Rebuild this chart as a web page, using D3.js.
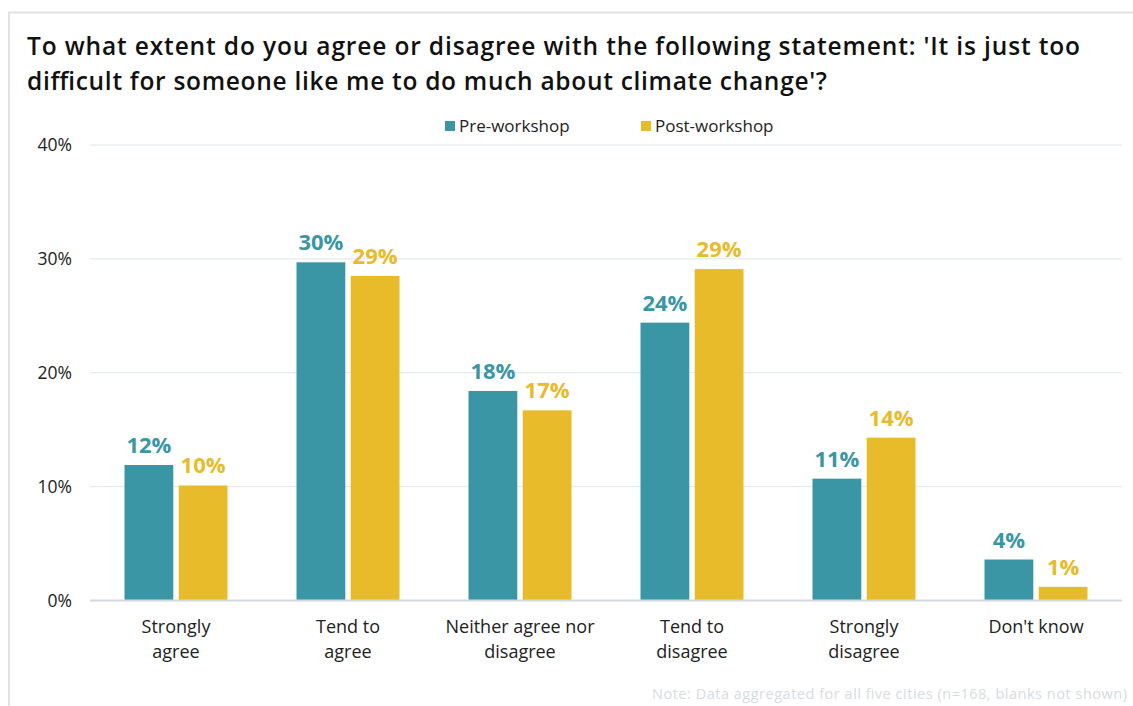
<!DOCTYPE html>
<html>
<head>
<meta charset="utf-8">
<script src="https://cdn.jsdelivr.net/npm/d3@7/dist/d3.min.js"></script>
<style>
  html, body { margin: 0; padding: 0; background: #fff; }
  svg { display: block; font-family: "Open Sans", "Noto Sans", sans-serif; }
</style>
</head>
<body>
<svg id="chart" width="1133" height="706"></svg>
<script>
// Survey responses (share of respondents, %)
const categories = [
  ["Strongly", "agree"],
  ["Tend to", "agree"],
  ["Neither agree nor", "disagree"],
  ["Tend to", "disagree"],
  ["Strongly", "disagree"],
  ["Don't know"]
];
const seriesNames = ["Pre-workshop", "Post-workshop"];
const preWorkshop  = [11.9, 29.7, 18.4, 24.4, 10.7, 3.6];
const postWorkshop = [10.1, 28.5, 16.7, 29.1, 14.3, 1.2];
const yTicks = [0, 10, 20, 30, 40];
const titleLines = [
  "To what extent do you agree or disagree with the following statement: 'It is just too",
  "difficult for someone like me to do much about climate change'?"
];

const colors = ["#3A96A5", "#E8BB2A"];

const svg = d3.select("#chart");
const W = 1133, H = 706;
const margin = { left: 90, right: 1122, top: 145, bottom: 600.5 };

// Panel frame (top and left edges)
svg.append("path")
  .attr("d", `M9,${H} L9,12.5 L${W},12.5`)
  .attr("fill", "none")
  .attr("stroke", "#e2e2e2")
  .attr("stroke-width", 2);

// Title
const title = svg.append("text")
  .attr("x", 27).attr("y", 55)
  .attr("font-size", 24.5).attr("font-weight", 600).attr("fill", "#111");
const titleWidths = [1053, 800];
title.selectAll("tspan")
  .data(titleLines)
  .join("tspan")
  .attr("x", 27)
  .attr("dy", (d, i) => i === 0 ? 0 : 35)
  .attr("textLength", (d, i) => titleWidths[i])
  .attr("lengthAdjust", "spacing")
  .text(d => d);

// Scales
const keys = categories.map((c, i) => i);
const x0 = d3.scaleBand().domain(keys).range([margin.left, margin.right]).paddingInner(0).paddingOuter(0);
const x1 = d3.scaleBand().domain([0, 1]).range([0, 103]).paddingInner(0.1);
const y = d3.scaleLinear().domain([0, 40]).range([margin.bottom, margin.top]);

// Gridlines
svg.append("g")
  .selectAll("line")
  .data(yTicks.filter(t => t > 0))
  .join("line")
  .attr("x1", margin.left).attr("x2", margin.right)
  .attr("y1", d => y(d)).attr("y2", d => y(d))
  .attr("stroke", "#dfe4e8").attr("stroke-width", 1);

// Y axis labels
const yAxis = d3.axisLeft(y).tickValues(yTicks).tickFormat(d => d + "%").tickSize(0).tickPadding(18);
const yg = svg.append("g").attr("transform", `translate(${margin.left},0)`).call(yAxis);
yg.select(".domain").remove();
yg.selectAll("text").attr("font-size", 17.5).attr("fill", "#222")
  .attr("font-family", "'Open Sans', 'Noto Sans', sans-serif");

// Bars
const rows = keys.map(i => [preWorkshop[i], postWorkshop[i]]);
const groups = svg.append("g").selectAll("g")
  .data(rows)
  .join("g")
  .attr("transform", (d, i) => `translate(${x0(i) + (x0.bandwidth() - 103) / 2},0)`);

groups.selectAll("rect")
  .data(d => d.map((v, s) => ({ v, s })))
  .join("rect")
  .attr("x", d => x1(d.s))
  .attr("width", x1.bandwidth())
  .attr("y", d => y(d.v))
  .attr("height", d => y(0) - y(d.v))
  .attr("fill", d => colors[d.s]);

groups.selectAll("text.val")
  .data(d => d.map((v, s) => ({ v, s })))
  .join("text")
  .attr("class", "val")
  .attr("x", d => x1(d.s) + x1.bandwidth() / 2)
  .attr("y", d => y(d.v) - 12)
  .attr("text-anchor", "middle")
  .attr("font-size", 22).attr("font-weight", 700)
  .attr("fill", d => colors[d.s])
  .text(d => Math.round(d.v) + "%");

// Baseline
svg.append("line")
  .attr("x1", margin.left).attr("x2", margin.right)
  .attr("y1", y(0)).attr("y2", y(0))
  .attr("stroke", "#d3dade").attr("stroke-width", 2);

// Category labels
const xl = svg.append("g").selectAll("text")
  .data(categories)
  .join("text")
  .attr("x", (d, i) => x0(i) + x0.bandwidth() / 2)
  .attr("y", 633)
  .attr("text-anchor", "middle")
  .attr("font-size", 18).attr("fill", "#222");
xl.selectAll("tspan")
  .data(d => d)
  .join("tspan")
  .attr("x", function () { return d3.select(this.parentNode).attr("x"); })
  .attr("dy", (d, i) => i === 0 ? 0 : 25)
  .text(d => d);

// Legend
const legendX = [445, 641];
const lg = svg.append("g").selectAll("g")
  .data(seriesNames)
  .join("g")
  .attr("transform", (d, i) => `translate(${legendX[i]},121)`);
lg.append("rect").attr("width", 10).attr("height", 10).attr("fill", (d, i) => colors[i]);
lg.append("text").attr("x", 14).attr("y", 10.5)
  .attr("font-size", 17).attr("fill", "#222").text(d => d);

// Footnote
svg.append("text")
  .attr("x", 1127).attr("y", 699)
  .attr("text-anchor", "end")
  .attr("font-size", 14.5).attr("fill", "#d6dce1")
  .attr("textLength", 475).attr("lengthAdjust", "spacing")
  .text("Note: Data aggregated for all five cities (n=168, blanks not shown)");
</script>
</body>
</html>
